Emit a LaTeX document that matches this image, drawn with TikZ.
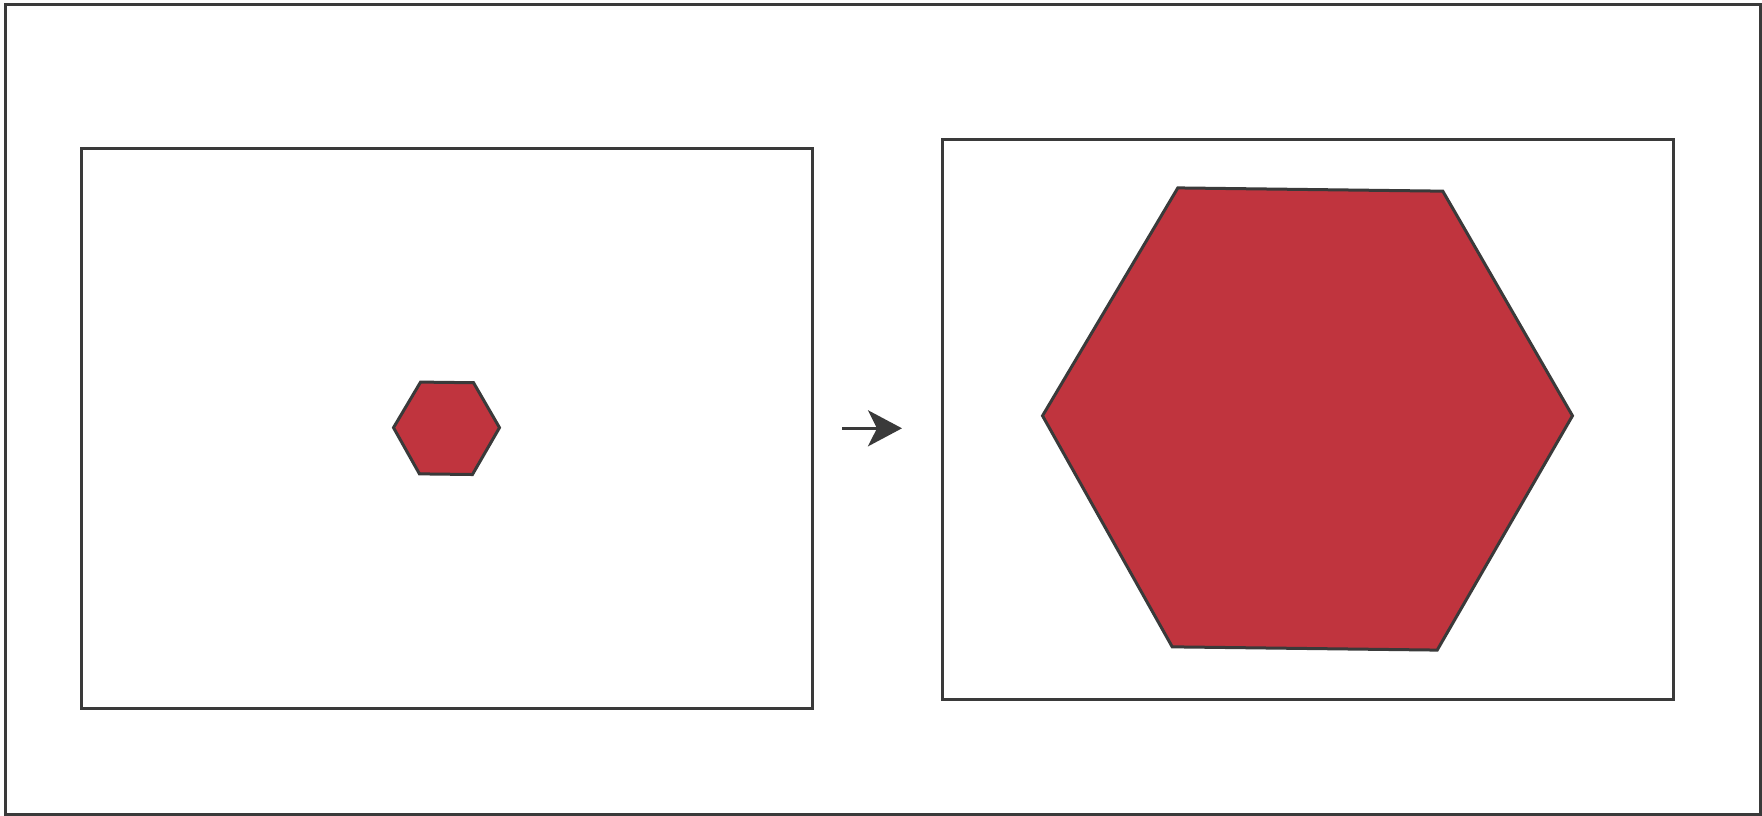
\documentclass[tikz,border=0pt]{standalone}
\usetikzlibrary{arrows.meta}
\definecolor{edge}{RGB}{58,58,58}
\definecolor{hexred}{RGB}{192,52,62}
\tikzset{
  frame/.style={draw=edge, line width=3pt},
  hexa/.style={draw=edge, fill=hexred, line width=3pt, line join=miter},
  arrowline/.style={draw=edge, line width=3pt, -{Stealth[length=34pt, width=36pt, inset=9pt]}}
}
\begin{document}
\begin{tikzpicture}[x=1pt, y=-1pt]
\useasboundingbox (0,0) rectangle (1762,816);
% outer frame
\draw[frame] (5.7,4.5) rectangle (1760.5,814.5);
% left and right boxes
\draw[frame] (81,148) rectangle (812,708);
\draw[frame] (942,139) rectangle (1673,699);
% small hexagon
\coordinate (sc) at (446.5,428.3);
\draw[hexa] ([shift={(-0.7:53)}]sc) \foreach \a in {59.3,119.3,179.3,239.3,299.3} { -- ([shift={(-\a:53)}]sc) } -- cycle;
% large hexagon
\coordinate (lc) at (1307.5,419);
\draw[hexa] ([shift={(-0.7:265)}]lc) \foreach \a in {59.3,119.3,179.3,239.3,299.3} { -- ([shift={(-\a:265)}]lc) } -- cycle;
% arrow
\coordinate (as) at (842,428.3);
\coordinate (ae) at (902,428.3);
\draw[arrowline] (as) -- (ae);
\end{tikzpicture}
\end{document}
